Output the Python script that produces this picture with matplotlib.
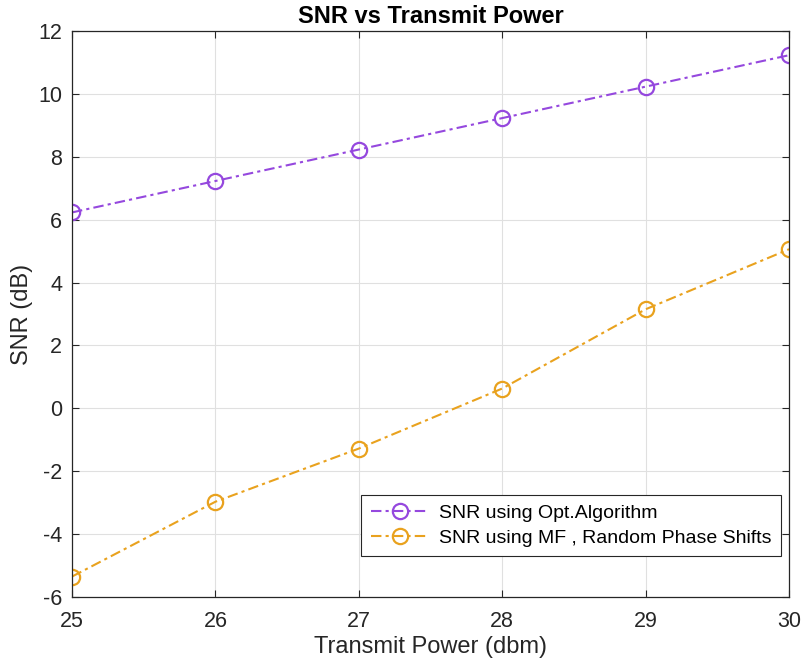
import matplotlib
matplotlib.use("Agg")
import matplotlib.pyplot as plt

plt.rcParams['font.family'] = ['Liberation Sans', 'DejaVu Sans']
plt.rcParams['axes.unicode_minus'] = False

power = [25, 26, 27, 28, 29, 30]
snr_opt = [6.23, 7.23, 8.23, 9.23, 10.23, 11.23]
snr_mf = [-5.35, -2.97, -1.28, 0.63, 3.15, 5.06]
labels = ['SNR using Opt.Algorithm', 'SNR using MF , Random Phase Shifts']

fig = plt.figure(figsize=(8.03, 6.68), dpi=100)
ax = fig.add_axes([0.0897, 0.1063, 0.8929, 0.8473])

ax.plot(power, snr_opt, linestyle=(0, (5, 2, 1.5, 2)), color='#9548DE', marker='o', markersize=11,
        markerfacecolor='none', markeredgewidth=1.6, linewidth=1.5, label=labels[0])
ax.plot(power, snr_mf, linestyle=(0, (5, 2, 1.5, 2)), color='#E9A21E', marker='o', markersize=11,
        markerfacecolor='none', markeredgewidth=1.6, linewidth=1.5, label=labels[1])

ax.set_xlim(25, 30)
ax.set_ylim(-6, 12)
ax.set_xticks(power)
ax.set_yticks(range(-6, 13, 2))
ax.grid(True, color='#E0E0E0', linewidth=0.8)
ax.tick_params(direction='in', labelsize=15.5, colors='#262626', length=5,
               top=True, right=True)
ax.tick_params(axis='x', pad=10)
ax.tick_params(axis='y', pad=7)
for s in ax.spines.values():
    s.set_color('#262626')
    s.set_linewidth(0.9)

ax.set_title('SNR vs Transmit Power', fontsize=17, fontweight='bold', pad=6)
ax.set_xlabel('Transmit Power (dbm)', fontsize=17, color='#262626', labelpad=3)
ax.set_ylabel('SNR (dB)', fontsize=17, color='#262626', labelpad=4)

leg = ax.legend(loc='lower right', bbox_to_anchor=(0.989, 0.072), fontsize=14,
                fancybox=False, edgecolor='#262626', framealpha=1, borderpad=0.5,
                handlelength=3.0, handletextpad=0.5, labelspacing=0.35, borderaxespad=0)
leg.get_frame().set_linewidth(0.8)

fig.savefig('out.png', dpi=100)
